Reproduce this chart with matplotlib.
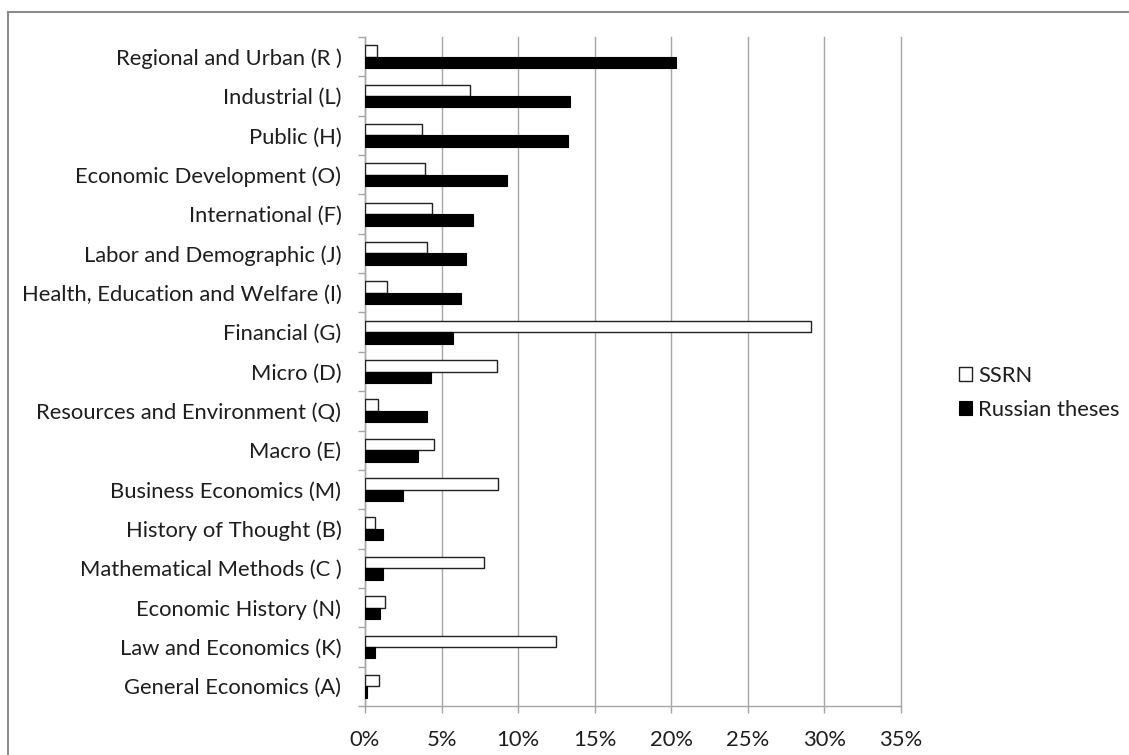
import numpy as np
import matplotlib.pyplot as plt
import matplotlib.ticker as mticker
from matplotlib.lines import Line2D

# ── Dados (de baixo para cima) ────────────────────────────────────────────────

categories = [
    "General Economics (A)",
    "Law and Economics (K)",
    "Economic History (N)",
    "Mathematical Methods (C )",
    "History of Thought (B)",
    "Business Economics (M)",
    "Macro (E)",
    "Resources and Environment (Q)",
    "Micro (D)",
    "Financial (G)",
    "Health, Education and Welfare (I)",
    "Labor and Demographic (J)",
    "International (F)",
    "Economic Development (O)",
    "Public (H)",
    "Industrial (L)",
    "Regional and Urban (R )",
]

ssrn = [0.94, 12.48, 1.33, 7.76, 0.63, 8.70, 4.50, 0.87, 8.65, 29.15,
        1.46, 4.07, 4.36, 3.92, 3.75, 6.86, 0.80]
russian = [0.13, 0.65, 0.96, 1.20, 1.18, 2.50, 3.49, 4.07, 4.29, 5.77,
           6.30, 6.60, 7.04, 9.26, 13.27, 13.40, 20.30]

xticks = [0, 5, 10, 15, 20, 25, 30, 35]

# ── Estilo ────────────────────────────────────────────────────────────────────

FG = "#1e1e1e"
GRID = "#a6a6a6"
FS = 15.8
plt.rcParams.update({
    "font.family": ["Lato", "DejaVu Sans"],
    "font.size": FS,
    "text.color": FG,
})

W, H = 1129, 755
fig = plt.figure(figsize=(W / 100, H / 100), dpi=100)
ax = fig.add_axes([365 / W, (H - 706) / H, 536 / W, 669 / H])

y = np.arange(len(categories))
h = 0.29
ax.barh(y + h / 2, ssrn, height=h, color="white", edgecolor="#222222",
        linewidth=1.0, label="SSRN", zorder=3)
ax.barh(y - h / 2, russian, height=h, color="black", edgecolor="black",
        linewidth=0.8, label="Russian theses", zorder=3)

ax.set_xlim(0, 35)
ax.set_ylim(-0.5, len(categories) - 0.5)
ax.set_xticks(xticks)
ax.xaxis.set_major_formatter(mticker.FuncFormatter(lambda v, _: f"{v:.0f}%"))
ax.set_yticks(y)
ax.set_yticklabels(categories)
ax.set_yticks(np.arange(-0.5, len(categories)), minor=True)
ax.tick_params(axis="y", which="major", length=0, pad=17, colors=FG)
ax.tick_params(axis="y", which="minor", length=5, color=GRID, width=1)
ax.tick_params(axis="x", length=5, width=1, pad=12, colors=FG)
ax.tick_params(axis="x", color=GRID)

ax.grid(True, axis="x", color=GRID, linewidth=1, zorder=0)
for gl in ax.get_xgridlines():
    gl.set_clip_on(False)
for side in ["top", "right"]:
    ax.spines[side].set_visible(False)
for side in ["left", "bottom"]:
    ax.spines[side].set_color(GRID)
    ax.spines[side].set_linewidth(1)

ax.legend(loc="center left", bbox_to_anchor=(939 / W, (H - 393) / H),
          bbox_transform=fig.transFigure, frameon=False, handlelength=0.6,
          handleheight=0.6, handletextpad=0.3, labelspacing=0.65,
          fontsize=FS)

# moldura do gráfico (cortada à direita e embaixo)
frame = dict(color="#8c8c8c", linewidth=1.5, transform=fig.transFigure)
fig.lines.append(Line2D([8 / W, 8 / W], [0, 1 - 12 / H], **frame))
fig.lines.append(Line2D([8 / W, 1], [1 - 12 / H, 1 - 12 / H], **frame))

fig.savefig("out.png", dpi=100, facecolor="white")
